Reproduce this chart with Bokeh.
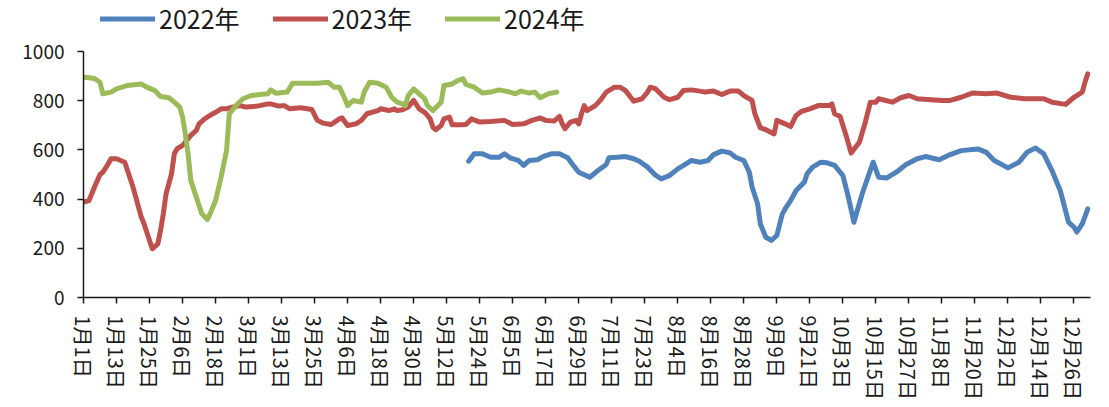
from bokeh.plotting import figure
from bokeh.models import Range1d, FixedTicker, Legend, LegendItem
from bokeh.layouts import column
from bokeh.embed import file_html
from bokeh.resources import INLINE

# x = day index of the year (0 = 1月1日, leap-year calendar)
tick_days = list(range(0, 361, 12))
tick_labels = ["1月1日", "1月13日", "1月25日", "2月6日", "2月18日", "3月1日", "3月13日",
               "3月25日", "4月6日", "4月18日", "4月30日", "5月12日", "5月24日", "6月5日",
               "6月17日", "6月29日", "7月11日", "7月23日", "8月4日", "8月16日", "8月28日",
               "9月9日", "9月21日", "10月3日", "10月15日", "10月27日", "11月8日", "11月20日",
               "12月2日", "12月14日", "12月26日"]

series_names = ["2022年", "2023年", "2024年"]

s2022 = [(140, 554), (142, 584), (145, 584), (148, 570), (151, 570), (153, 584), (155, 568),
         (158, 557), (160, 537), (162, 557), (165, 560), (167, 573), (170, 584), (173, 584),
         (176, 568), (178, 537), (180, 509), (184, 489), (187, 516), (190, 541), (191, 568),
         (194, 570), (197, 573), (200, 564), (202, 554), (205, 530), (208, 496), (210, 482),
         (213, 496), (216, 523), (219, 543), (221, 557), (224, 550), (227, 557), (229, 581),
         (232, 595), (235, 588), (237, 570), (240, 557), (242, 509), (243, 449), (245, 381),
         (246, 299), (248, 245), (250, 232), (252, 252), (254, 340), (255, 360), (257, 394),
         (259, 435), (262, 469), (263, 503), (265, 530), (268, 550), (270, 548), (273, 537),
         (276, 496), (278, 408), (280, 306), (283, 421), (287, 550), (289, 489), (292, 486),
         (296, 514), (299, 541), (303, 564), (306, 573), (311, 560), (315, 581), (319, 597),
         (325, 604), (328, 591), (331, 557), (336, 527), (340, 550), (343, 591), (346, 608),
         (349, 584), (352, 516), (355, 435), (358, 306), (360, 286), (361, 266), (363, 299),
         (365, 360)]

s2023 = [(0, 388), (2, 394), (4, 449), (6, 500), (7, 509), (9, 543), (10, 564), (12, 564),
         (15, 550), (16, 516), (18, 449), (21, 327), (22, 300), (24, 232), (25, 198), (27, 218),
         (28, 272), (29, 340), (30, 421), (32, 503), (33, 584), (34, 604), (36, 618), (38, 645),
         (39, 659), (41, 679), (42, 706), (44, 726), (46, 740), (48, 753), (50, 767), (52, 767),
         (54, 774), (57, 780), (59, 774), (62, 776), (64, 780), (67, 787), (68, 787), (71, 778),
         (73, 780), (75, 767), (79, 771), (83, 764), (85, 720), (87, 709), (90, 703), (93, 726),
         (94, 730), (96, 699), (99, 706), (101, 720), (103, 747), (107, 760), (108, 767),
         (111, 760), (113, 767), (114, 760), (116, 763), (118, 774), (120, 801), (122, 767),
         (124, 753), (125, 740), (126, 726), (127, 692), (128, 682), (130, 699), (131, 726),
         (133, 733), (134, 702), (137, 702), (139, 703), (141, 726), (144, 713), (148, 715),
         (153, 720), (156, 703), (160, 706), (163, 720), (166, 730), (168, 720), (171, 717),
         (173, 736), (174, 706), (175, 686), (177, 713), (179, 720), (180, 706), (181, 747),
         (182, 780), (183, 760), (186, 780), (188, 804), (190, 835), (193, 855), (195, 855),
         (197, 841), (199, 812), (200, 798), (203, 808), (205, 835), (206, 855), (208, 848),
         (211, 814), (213, 804), (216, 814), (218, 841), (221, 844), (224, 839), (226, 835),
         (229, 839), (232, 825), (235, 839), (238, 839), (240, 821), (243, 801), (244, 747),
         (246, 690), (248, 682), (251, 665), (252, 720), (255, 706), (257, 695), (259, 740),
         (261, 757), (264, 767), (267, 780), (271, 780), (272, 787), (273, 747), (275, 736),
         (277, 665), (279, 587), (282, 631), (284, 706), (286, 794), (288, 794), (289, 808),
         (294, 794), (297, 812), (300, 821), (303, 808), (308, 804), (312, 801), (315, 801),
         (319, 814), (323, 831), (328, 828), (332, 831), (337, 814), (342, 808), (349, 808),
         (352, 794), (357, 785), (360, 814), (363, 835), (364, 875), (365, 909)]

s2024 = [(0, 895), (2, 893), (4, 890), (6, 875), (7, 828), (10, 835), (12, 848), (16, 862),
         (21, 868), (23, 855), (26, 841), (28, 817), (31, 812), (33, 794), (35, 774), (36, 733),
         (37, 665), (38, 584), (39, 476), (41, 408), (43, 340), (45, 317), (46, 340), (48, 394),
         (50, 489), (52, 598), (53, 747), (55, 774), (56, 787), (58, 808), (61, 821), (64, 825),
         (67, 828), (68, 844), (70, 830), (74, 835), (76, 871), (80, 871), (85, 871), (89, 875),
         (91, 855), (93, 855), (95, 808), (96, 780), (98, 801), (101, 794), (102, 835),
         (104, 875), (107, 871), (110, 855), (112, 814), (114, 794), (116, 787), (117, 780),
         (118, 821), (120, 848), (122, 828), (124, 808), (125, 780), (127, 760), (130, 794),
         (131, 862), (134, 868), (136, 882), (138, 889), (139, 866), (142, 855), (145, 831),
         (148, 835), (151, 844), (155, 835), (157, 828), (159, 839), (162, 831), (164, 835),
         (166, 812), (169, 828), (172, 835)]

colors = ["#4F81BD", "#C0504D", "#9BBB59"]
FONT = "Noto Sans CJK SC"
INK = "#1a1a1a"
W = 1107

# ---- legend strip (own small figure above the chart; its frame aligns with the chart frame) ----
lg = figure(width=W, height=37, output_backend="svg", toolbar_location=None,
            x_range=Range1d(0, 1), y_range=Range1d(0, 1),
            x_axis_location=None, y_axis_location=None,
            min_border=0, min_border_left=0, min_border_right=0,
            min_border_top=0, min_border_bottom=0)
lg.grid.visible = False
lg.outline_line_color = None

# ---- main chart ----
p = figure(width=W, height=368, output_backend="svg", toolbar_location=None,
           x_range=Range1d(0, 366), y_range=Range1d(0, 1000),
           min_border_left=83, min_border_right=17, min_border_top=14, min_border_bottom=108)
p.outline_line_color = None
p.grid.visible = False

items = []
for name, data, c in zip(series_names, [s2022, s2023, s2024], colors):
    xs = [d for d, _ in data]
    ys = [v for _, v in data]
    p.line(xs, ys, line_color=c, line_width=5, line_join="round", line_cap="round")
    # legend proxy placed outside the strip's visible range
    proxy = lg.line([5, 6], [5, 6], line_color=c, line_width=5, line_cap="round")
    items.append(LegendItem(label=name, renderers=[proxy]))

legend = Legend(items=items, orientation="horizontal", location=(17, 1),
                glyph_width=55, glyph_height=25, label_height=25, label_standoff=4,
                spacing=33, padding=0, margin=0,
                label_text_font=FONT, label_text_font_size="25px", label_text_color=INK,
                border_line_alpha=0, background_fill_alpha=0)
lg.add_layout(legend)

xa = p.xaxis[0]
xa.ticker = FixedTicker(ticks=tick_days)
xa.major_label_overrides = {d: l for d, l in zip(tick_days, tick_labels)}
xa.major_label_orientation = "vertical"
xa.major_label_text_font = FONT
xa.major_label_text_font_size = "20px"
xa.major_label_text_color = INK
xa.major_label_standoff = 12
xa.major_tick_out = 6
xa.major_tick_in = 0
xa.minor_tick_line_color = None
xa.axis_line_color = INK
xa.axis_line_width = 1.5
xa.major_tick_line_color = INK
xa.major_tick_line_width = 1.5

ya = p.yaxis[0]
ya.ticker = FixedTicker(ticks=[0, 200, 400, 600, 800, 1000])
ya.major_label_text_font = FONT
ya.major_label_text_font_size = "19px"
ya.major_label_text_color = INK
ya.major_label_standoff = 13
ya.major_tick_out = 6
ya.major_tick_in = 0
ya.minor_tick_line_color = None
ya.axis_line_color = INK
ya.axis_line_width = 1.5
ya.major_tick_line_color = INK
ya.major_tick_line_width = 1.5

layout = column(lg, p, spacing=0)
open("out.html", "w").write(file_html(layout, INLINE))
